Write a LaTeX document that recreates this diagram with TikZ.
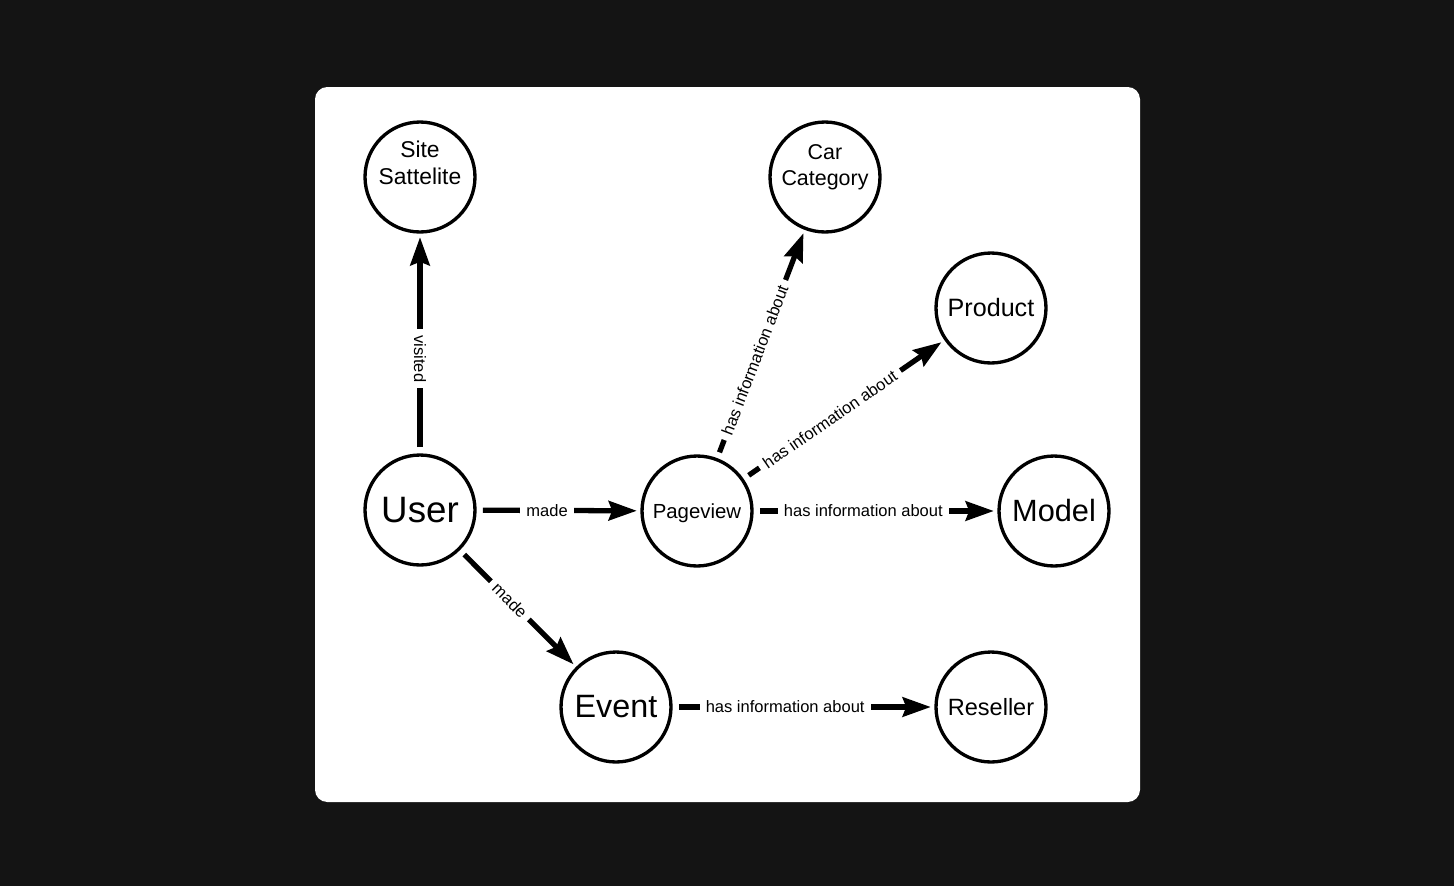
\documentclass[tikz,border=0pt]{standalone}
\usepackage{fontspec}
\setmainfont{Liberation Sans}
\usetikzlibrary{arrows.meta}
\definecolor{backdrop}{RGB}{20,20,20}

\begin{document}
\begin{tikzpicture}[x=0.02cm, y=-0.02cm,
rel/.style={line width=3pt, -{Stealth[length=16pt, width=11pt, inset=2pt]}, shorten <=3.5pt, shorten >=2pt},
lbl/.style={fill=white, inner sep=3.5pt, pos=0.43, font=\fontsize{9.4}{11}\selectfont}]
%backdrop and card
\fill[backdrop] (0,0) rectangle (1454,886);
\fill[white, rounded corners=7pt] (315,87) rectangle (1140,802);
\begin{scope}[every node/.style={circle, draw, line width=1.9pt, minimum size=2.2cm, inner sep=0pt, align=center}]
%two line nodes sit a bit high
\node[text depth=16pt, font=\fontsize{13}{15.3}\selectfont] (site) at (420,177) {Site\\Sattelite};
\node[text depth=14pt, font=\fontsize{12.2}{14.7}\selectfont] (carcat) at (825,177) {Car\\Category};
\node[font=\fontsize{14.3}{16}\selectfont] (product) at (991,308) {Product};
\node[font=\fontsize{20.9}{24}\selectfont] (user) at (420,510) {User};
\node[text depth=0pt, font=\fontsize{11.6}{14}\selectfont] (pageview) at (697,511) {Pageview};
\node[font=\fontsize{17.5}{20}\selectfont] (model) at (1054,511) {Model};
\node[font=\fontsize{18.4}{21}\selectfont] (event) at (616,707) {Event};
\node[font=\fontsize{13.4}{16}\selectfont] (reseller) at (991,707) {Reseller};
\end{scope}

%relations
\draw[rel] (user) -- (site) node[lbl, rotate=-90] {visited};
\draw[rel] (user) -- (pageview) node[lbl] {made};
\draw[rel] (user) -- (event) node[lbl, sloped] {made};
\draw[rel] (pageview) -- (carcat) node[lbl, sloped] {has information about};
\draw[rel] (pageview) -- (product) node[lbl, sloped] {has information about};
\draw[rel] (pageview) -- (model) node[lbl, pos=0.45] {has information about};
\draw[rel] (event) -- (reseller) node[lbl] {has information about};
\end{tikzpicture}
\end{document}
